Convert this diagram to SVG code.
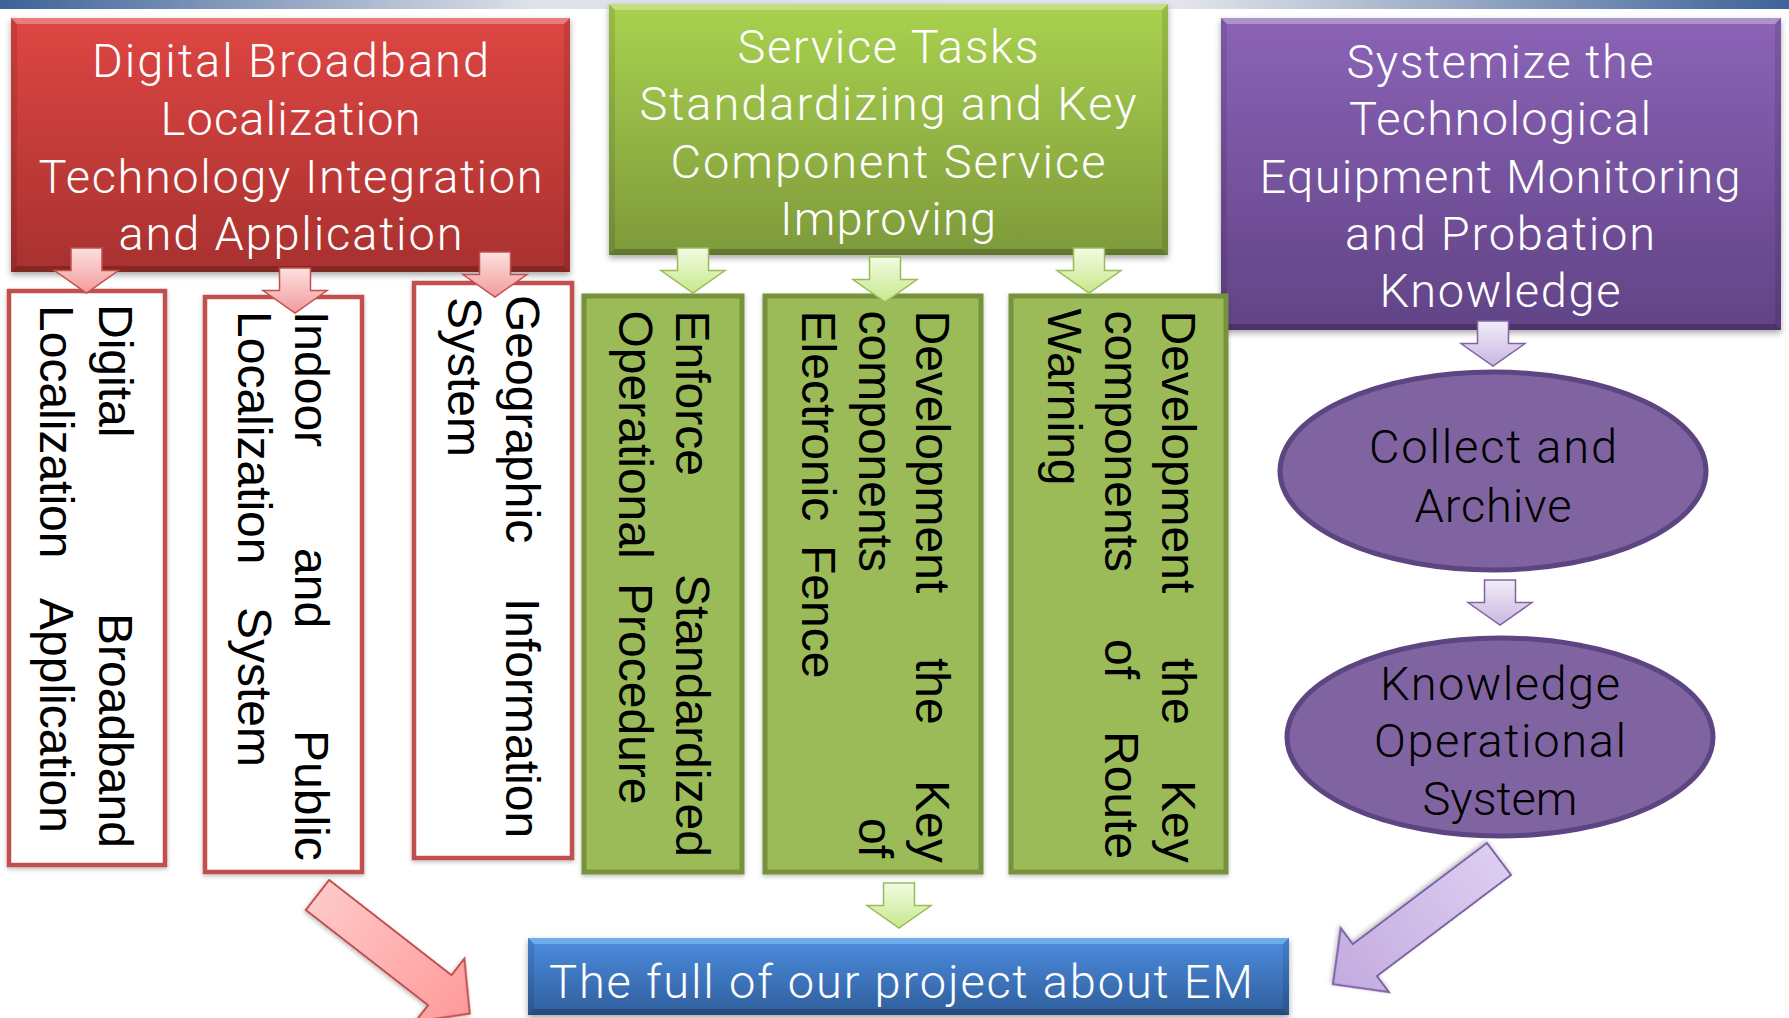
<svg xmlns="http://www.w3.org/2000/svg" xmlns:xlink="http://www.w3.org/1999/xlink" width="1789" height="1018" viewBox="0 0 1789 1018">
<defs>
<style>
.rtxt{font-family:"Liberation Sans",Arial,sans-serif;font-size:48px;fill:#000;}
.ttxt{font-family:Roboto,"Liberation Sans",sans-serif;font-weight:300;font-size:47px;fill:#fff;text-anchor:middle;}
.etxt{font-family:Roboto,"Liberation Sans",sans-serif;font-weight:300;font-size:47px;fill:#000;text-anchor:middle;}
.obox{fill:#fff;stroke:#c0504d;stroke-width:4.5;}
.gbox{fill:#9bbb59;stroke:#76923c;stroke-width:5;}
.ell{fill:#8064a2;stroke:#5c4580;stroke-width:5;}
.ar-red{fill:url(#gArRed);stroke:#c0504d;stroke-width:1.5;}
.ar-grn{fill:url(#gArGrn);stroke:#9bbb59;stroke-width:1.5;}
.ar-pur{fill:url(#gArPur);stroke:#8064a2;stroke-width:1.5;}
.bev-t{fill:#fff;opacity:0.3;}
.bev-b{fill:#000;opacity:0.22;}
.bev-s{fill:#000;opacity:0.1;}
</style>
<linearGradient id="gBar" x1="0" y1="0" x2="1" y2="0">
<stop offset="0" stop-color="#3d6399"/><stop offset="0.3" stop-color="#dfe2e9"/><stop offset="0.66" stop-color="#e3e5ea"/><stop offset="1" stop-color="#3d6399"/>
</linearGradient>
<linearGradient id="gRed" x1="0" y1="0" x2="0" y2="1"><stop offset="0" stop-color="#de4643"/><stop offset="1" stop-color="#a8312f"/></linearGradient>
<linearGradient id="gGrn" x1="0" y1="0" x2="0" y2="1"><stop offset="0" stop-color="#a9d24f"/><stop offset="1" stop-color="#7e9a3b"/></linearGradient>
<linearGradient id="gPur" x1="0" y1="0" x2="0" y2="1"><stop offset="0" stop-color="#8b63b7"/><stop offset="1" stop-color="#614386"/></linearGradient>
<linearGradient id="gBlu" x1="0" y1="0" x2="0" y2="1"><stop offset="0" stop-color="#4d8ddf"/><stop offset="1" stop-color="#2f5e9c"/></linearGradient>
<linearGradient id="gArRed" x1="0" y1="0" x2="0" y2="1"><stop offset="0" stop-color="#fde0e0"/><stop offset="1" stop-color="#f29b9b"/></linearGradient>
<linearGradient id="gArGrn" x1="0" y1="0" x2="0" y2="1"><stop offset="0" stop-color="#f3fbe4"/><stop offset="1" stop-color="#c6e98a"/></linearGradient>
<linearGradient id="gArPur" x1="0" y1="0" x2="0" y2="1"><stop offset="0" stop-color="#f1ecf8"/><stop offset="1" stop-color="#c9b7e2"/></linearGradient>
<linearGradient id="gDiaRed" x1="0" y1="0" x2="1" y2="0"><stop offset="0" stop-color="#ffc8c8"/><stop offset="1" stop-color="#ff9a9a"/></linearGradient>
<linearGradient id="gDiaPur" x1="0" y1="0" x2="1" y2="0"><stop offset="0" stop-color="#dccdf0"/><stop offset="1" stop-color="#c3abdf"/></linearGradient>
<filter id="sh" x="-10%" y="-10%" width="120%" height="130%"><feDropShadow dx="0" dy="3" stdDeviation="3" flood-color="#000" flood-opacity="0.35"/></filter>
<filter id="shs" x="-10%" y="-10%" width="120%" height="130%"><feDropShadow dx="0" dy="2" stdDeviation="2" flood-color="#000" flood-opacity="0.25"/></filter>
<path id="dn" d="M-15.5,0H15.5V22.5H32L0,45L-32,22.5H-15.5Z"/>
</defs>

<rect x="0" y="0" width="1789" height="9" fill="url(#gBar)"/>

<g id="node-red-main">
<rect x="11" y="18" width="559" height="254" fill="url(#gRed)" filter="url(#sh)"/>
<polygon class="bev-t" points="11,18 570,18 564,24 17,24"/>
<polygon class="bev-b" points="11,272 570,272 564,266 17,266"/>
<polygon class="bev-s" points="11,18 17,24 17,266 11,272"/>
<polygon class="bev-s" points="570,18 564,24 564,266 570,272"/>
<text class="ttxt" x="290.5" y="77" textLength="397" lengthAdjust="spacing">Digital Broadband</text>
<text class="ttxt" x="290.5" y="135" textLength="260" lengthAdjust="spacing">Localization</text>
<text class="ttxt" x="290.5" y="193" textLength="504" lengthAdjust="spacing">Technology Integration</text>
<text class="ttxt" x="290.5" y="250" textLength="344" lengthAdjust="spacing">and Application</text>
</g>

<g id="node-green-main">
<rect x="609" y="4" width="559" height="251" fill="url(#gGrn)" filter="url(#sh)"/>
<polygon class="bev-t" points="609,4 1168,4 1162,10 615,10"/>
<polygon class="bev-b" points="609,255 1168,255 1162,249 615,249"/>
<polygon class="bev-s" points="609,4 615,10 615,249 609,255"/>
<polygon class="bev-s" points="1168,4 1162,10 1162,249 1168,255"/>
<text class="ttxt" x="888" y="63" textLength="301" lengthAdjust="spacing">Service Tasks</text>
<text class="ttxt" x="888" y="120" textLength="497" lengthAdjust="spacing">Standardizing and Key</text>
<text class="ttxt" x="888" y="178" textLength="435" lengthAdjust="spacing">Component Service</text>
<text class="ttxt" x="888" y="235" textLength="216" lengthAdjust="spacing">Improving</text>
</g>

<g id="node-purple-main">
<rect x="1221" y="18" width="560" height="312" fill="url(#gPur)" filter="url(#sh)"/>
<polygon class="bev-t" points="1221,18 1781,18 1775,24 1227,24"/>
<polygon class="bev-b" points="1221,330 1781,330 1775,324 1227,324"/>
<polygon class="bev-s" points="1221,18 1227,24 1227,324 1221,330"/>
<polygon class="bev-s" points="1781,18 1775,24 1775,324 1781,330"/>
<text class="ttxt" x="1500" y="78" textLength="307" lengthAdjust="spacing">Systemize the</text>
<text class="ttxt" x="1500" y="135" textLength="302" lengthAdjust="spacing">Technological</text>
<text class="ttxt" x="1500" y="193" textLength="481" lengthAdjust="spacing">Equipment Monitoring</text>
<text class="ttxt" x="1500" y="250" textLength="310" lengthAdjust="spacing">and Probation</text>
<text class="ttxt" x="1500" y="307" textLength="241" lengthAdjust="spacing">Knowledge</text>
</g>

<g id="node-digital">
<rect class="obox" x="9" y="291" width="156" height="574" filter="url(#shs)"/>
<g transform="rotate(90)">
<text class="rtxt" x="304" y="-99">Digital</text>
<text class="rtxt" x="613" y="-99">Broadband</text>
<text class="rtxt" x="305" y="-40">Localization</text>
<text class="rtxt" x="598" y="-40">Application</text>
</g>
</g>

<g id="node-indoor">
<rect class="obox" x="205" y="297" width="157" height="575" filter="url(#shs)"/>
<g transform="rotate(90)">
<text class="rtxt" x="311" y="-295">Indoor</text>
<text class="rtxt" x="548" y="-295">and</text>
<text class="rtxt" x="730" y="-295">Public</text>
<text class="rtxt" x="311" y="-237.5">Localization</text>
<text class="rtxt" x="607" y="-237.5">System</text>
</g>
</g>

<g id="node-gis">
<rect class="obox" x="414" y="283" width="158" height="575" filter="url(#shs)"/>
<g transform="rotate(90)">
<text class="rtxt" x="295" y="-506">Geographic</text>
<text class="rtxt" x="598" y="-506">Information</text>
<text class="rtxt" x="297" y="-448">System</text>
</g>
</g>

<g id="node-enforce">
<rect class="gbox" x="584" y="296" width="158" height="576" filter="url(#shs)"/>
<g transform="rotate(90)">
<text class="rtxt" x="310.5" y="-676">Enforce</text>
<text class="rtxt" x="574" y="-676">Standardized</text>
<text class="rtxt" x="310.5" y="-619">Operational</text>
<text class="rtxt" x="583" y="-619">Procedure</text>
</g>
</g>

<g id="node-fence">
<rect class="gbox" x="765" y="296" width="216" height="576" filter="url(#shs)"/>
<g transform="rotate(90)">
<text class="rtxt" x="310.5" y="-916">Development</text>
<text class="rtxt" x="658" y="-916">the</text>
<text class="rtxt" x="780" y="-916">Key</text>
<text class="rtxt" x="310.5" y="-859">components</text>
<text class="rtxt" x="818" y="-859">of</text>
<text class="rtxt" x="310.5" y="-802">Electronic</text>
<text class="rtxt" x="545" y="-802">Fence</text>
</g>
</g>

<g id="node-route">
<rect class="gbox" x="1011" y="296" width="215" height="576" filter="url(#shs)"/>
<g transform="rotate(90)">
<text class="rtxt" x="310.5" y="-1162">Development</text>
<text class="rtxt" x="658" y="-1162">the</text>
<text class="rtxt" x="780" y="-1162">Key</text>
<text class="rtxt" x="310.5" y="-1105">components</text>
<text class="rtxt" x="639" y="-1105">of</text>
<text class="rtxt" x="731" y="-1105">Route</text>
<text class="rtxt" x="308.6" y="-1048">Warning</text>
</g>
</g>

<g id="node-collect">
<ellipse class="ell" cx="1493" cy="471" rx="213" ry="99"/>
<text class="etxt" x="1493" y="463" textLength="248" lengthAdjust="spacing">Collect and</text>
<text class="etxt" x="1493" y="522" textLength="157" lengthAdjust="spacing">Archive</text>
</g>

<g id="node-knowledge">
<ellipse class="ell" cx="1500" cy="737" rx="213" ry="99"/>
<text class="etxt" x="1500" y="700" textLength="240" lengthAdjust="spacing">Knowledge</text>
<text class="etxt" x="1500" y="757" textLength="252" lengthAdjust="spacing">Operational</text>
<text class="etxt" x="1500" y="815" textLength="155" lengthAdjust="spacing">System</text>
</g>

<g id="node-project">
<rect x="528" y="938" width="761" height="77" fill="url(#gBlu)" filter="url(#sh)"/>
<polygon fill="#9cd0ff" opacity="0.45" points="528,938 1289,938 1283,944 534,944"/>
<polygon class="bev-b" points="528,1015 1289,1015 1283,1009 534,1009"/>
<polygon class="bev-s" points="528,938 534,944 534,1009 528,1015"/>
<polygon class="bev-s" points="1289,938 1283,944 1283,1009 1289,1015"/>
<text class="ttxt" x="901" y="998" textLength="704" lengthAdjust="spacing">The full of our project about EM</text>
</g>

<g id="connectors">
<use href="#dn" class="ar-red" transform="translate(86.5,248)"/>
<use href="#dn" class="ar-red" transform="translate(295,268)"/>
<use href="#dn" class="ar-red" transform="translate(495,252)"/>
<use href="#dn" class="ar-grn" transform="translate(693,248)"/>
<use href="#dn" class="ar-grn" transform="translate(885,257)"/>
<use href="#dn" class="ar-grn" transform="translate(1089,248)"/>
<use href="#dn" class="ar-pur" transform="translate(1493,321)"/>
<use href="#dn" class="ar-pur" transform="translate(1500,580)"/>
<use href="#dn" class="ar-grn" transform="translate(899,883)"/>
<polygon fill="url(#gDiaRed)" stroke="#c0504d" stroke-width="2" filter="url(#shs)" transform="translate(317.5,895) rotate(37.9)" points="0,-19 155,-19 155,-40 193,0 155,40 155,19 0,19"/>
<polygon fill="url(#gDiaPur)" stroke="#7e62a8" stroke-width="2" filter="url(#shs)" transform="translate(1499,859) rotate(143)" points="0,-20 168,-20 168,-40 208,0 168,40 168,20 0,20"/>
</g>
</svg>
